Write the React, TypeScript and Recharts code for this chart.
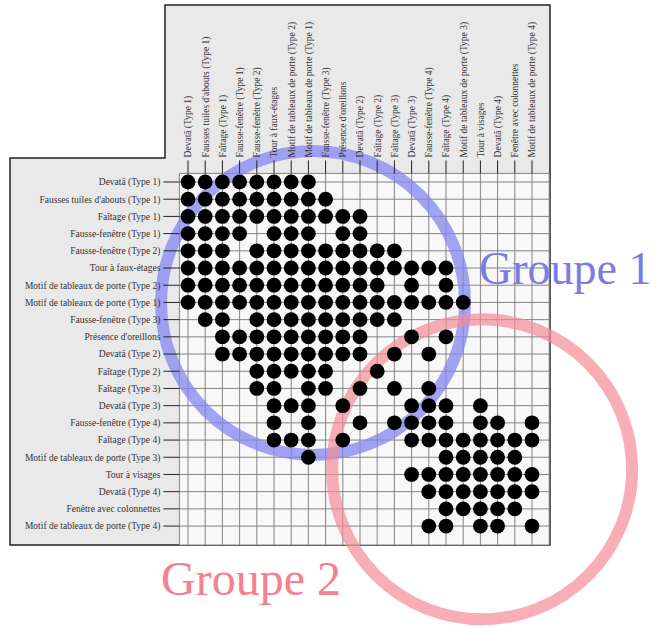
import { ScatterChart, Scatter, XAxis, YAxis, CartesianGrid, ReferenceDot, Customized } from 'recharts';

// traits, in seriation order (same order for rows and columns)
const traits = [
  'Devatā (Type 1)',
  "Fausses tuiles d'abouts (Type 1)",
  'Faîtage (Type 1)',
  'Fausse-fenêtre (Type 1)',
  'Fausse-fenêtre (Type 2)',
  'Tour à faux-étages',
  'Motif de tableaux de porte (Type 2)',
  'Motif de tableaux de porte (Type 1)',
  'Fausse-fenêtre (Type 3)',
  "Présence d'oreillons",
  'Devatā (Type 2)',
  'Faîtage (Type 2)',
  'Faîtage (Type 3)',
  'Devatā (Type 3)',
  'Fausse-fenêtre (Type 4)',
  'Faîtage (Type 4)',
  'Motif de tableaux de porte (Type 3)',
  'Tour à visages',
  'Devatā (Type 4)',
  'Fenêtre avec colonnettes',
  'Motif de tableaux de porte (Type 4)',
];

const tickIndex = [1, 2, 3, 4, 5, 6, 7, 8, 9, 10, 11, 12, 13, 14, 15, 16, 17, 18, 19, 20, 21];

// for each row, the columns that hold a dot
const rowCols: number[][] = [
  [1, 2, 3, 4, 5, 6, 7, 8],
  [1, 2, 3, 4, 5, 6, 7, 8, 9],
  [1, 2, 3, 4, 5, 6, 7, 8, 9, 10, 11],
  [1, 2, 3, 4, 6, 7, 8, 10, 11],
  [1, 2, 3, 5, 6, 7, 8, 9, 10, 11, 12, 13],
  [1, 2, 3, 4, 5, 6, 7, 8, 9, 10, 11, 12, 13, 14, 15, 16],
  [1, 2, 3, 4, 5, 6, 7, 8, 9, 10, 11, 12, 14, 16],
  [1, 2, 3, 4, 5, 6, 7, 8, 9, 10, 11, 12, 13, 14, 15, 16, 17],
  [2, 3, 5, 6, 7, 8, 9, 10, 11, 12, 13],
  [3, 4, 5, 6, 7, 8, 9, 10, 11, 14, 16],
  [3, 4, 5, 6, 7, 8, 9, 10, 11, 13, 15],
  [5, 6, 7, 8, 9, 12],
  [5, 6, 8, 9, 11, 13, 15],
  [6, 7, 8, 10, 14, 15, 16, 18],
  [6, 8, 11, 13, 14, 15, 16, 18, 19, 21],
  [6, 7, 8, 10, 14, 15, 16, 17, 18, 19, 20, 21],
  [8, 16, 17, 18, 19, 20],
  [14, 15, 16, 17, 18, 19, 20, 21],
  [15, 16, 17, 18, 19, 20, 21],
  [16, 17, 18, 19, 20],
  [15, 16, 18, 19, 21],
];

// group circles (centre in column/row units)
const group1 = { col: 8.27, row: 8.03 };
const group2 = { col: 18.1, row: 17.7 };

const points = rowCols.flatMap((cols, i) => cols.map((c) => ({ col: c, row: i + 1 })));

const font = '"Liberation Serif", "Times New Roman", serif';

function ColTick(props: any) {
  const { x, y, payload } = props;
  return (
    <text
      transform={`translate(${x},${y}) rotate(-90)`}
      textAnchor="start"
      dy="0.35em"
      fontSize={9.5}
      fontFamily={font}
      fill="#333"
    >
      {traits[payload.value - 1]}
    </text>
  );
}

function RowTick(props: any) {
  const { x, y, payload } = props;
  return (
    <text x={x} y={y} textAnchor="end" dy="0.35em" fontSize={9.5} fontFamily={font} fill="#333">
      {traits[payload.value - 1]}
    </text>
  );
}

function GroupLabels() {
  return (
    <g fontFamily={font}>
      <text x={479} y={284} fill="#7b7be8" fontSize={46}>
        Groupe 1
      </text>
      <text x={161} y={595} fill="#f5808e" fontSize={48}>
        Groupe 2
      </text>
    </g>
  );
}

export default function App() {
  return (
    <div style={{ position: 'absolute', left: 0, top: 0, width: 658, height: 627, background: '#fff' }}>
      <svg width={658} height={627} style={{ position: 'absolute', left: 0, top: 0 }}>
        <polygon
          points="165,5 550,5 550,545 10,545 10,158 165,158"
          fill="#e9e9e9"
          stroke="#222"
          strokeWidth={1.5}
        />
      </svg>
      <div style={{ position: 'absolute', left: 0, top: 0 }}>
        <ScatterChart width={658} height={627} margin={{ top: 0, right: 108.8, bottom: 82, left: 0 }}>
          <CartesianGrid stroke="#777" strokeWidth={0.9} fill="#f8f8f8" fillOpacity={1} />
          <XAxis
            type="number"
            dataKey="col"
            orientation="top"
            domain={[0.5, 22]}
            ticks={tickIndex}
            interval={0}
            height={173.4}
            tickSize={13}
            tickMargin={3}
            axisLine={false}
            tickLine={{ stroke: '#222' }}
            tick={<ColTick />}
          />
          <YAxis
            type="number"
            dataKey="row"
            domain={[0.5, 22.1]}
            reversed
            ticks={tickIndex}
            interval={0}
            width={179.4}
            tickSize={16}
            tickMargin={3}
            axisLine={false}
            tickLine={{ stroke: '#222' }}
            tick={<RowTick />}
          />
          <ReferenceDot
            x={group1.col}
            y={group1.row}
            r={152}
            fill="none"
            stroke="#8585f2"
            strokeOpacity={0.75}
            strokeWidth={12}
            ifOverflow="visible"
            zIndex={50}
          />
          <ReferenceDot
            x={group2.col}
            y={group2.row}
            r={150}
            fill="none"
            stroke="#f58c98"
            strokeOpacity={0.7}
            strokeWidth={12}
            ifOverflow="visible"
            zIndex={50}
          />
          <Scatter
            data={points}
            isAnimationActive={false}
            zIndex={700}
            shape={(p: any) => <circle cx={p.cx} cy={p.cy} r={7.4} fill="#000" />}
          />
          <Customized component={<GroupLabels />} />
        </ScatterChart>
      </div>
    </div>
  );
}
